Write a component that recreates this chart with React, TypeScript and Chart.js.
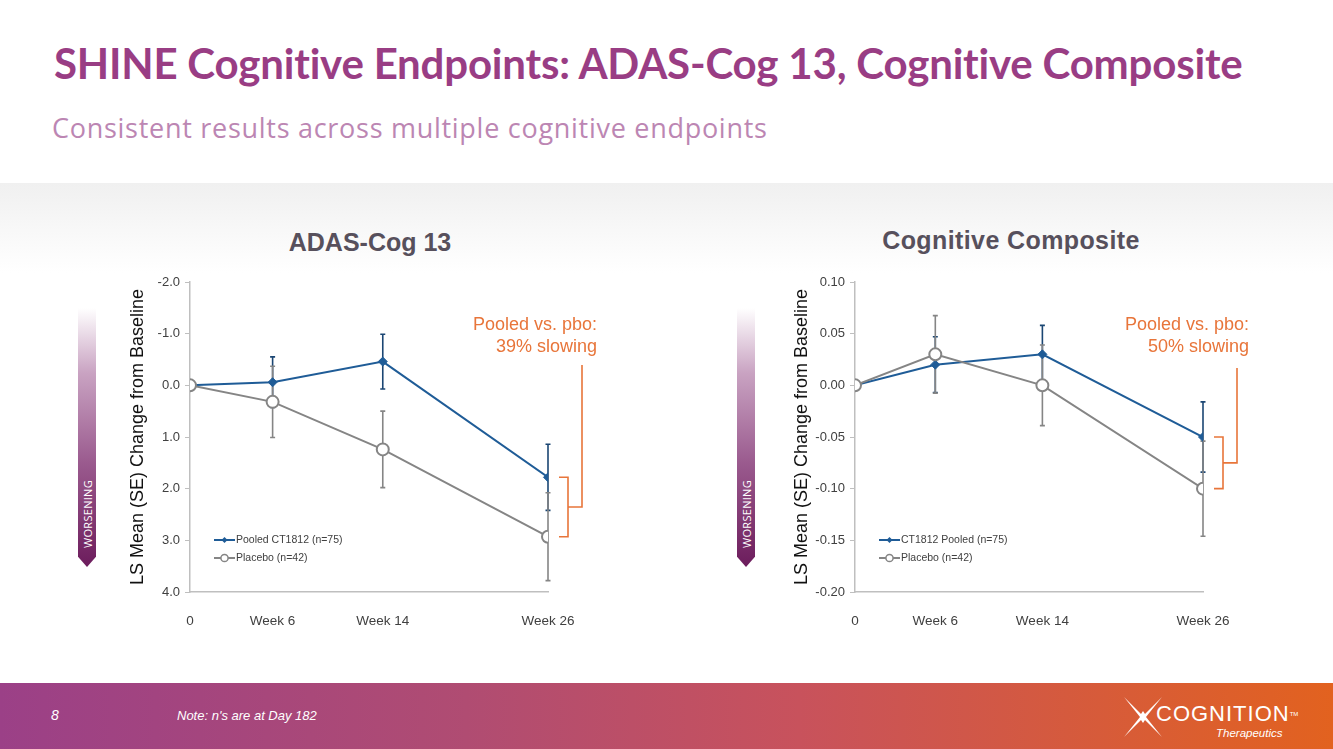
import React, { useEffect, useRef } from "react";
import { Chart, registerables } from "chart.js";

Chart.register(...registerables);

// ---------- data ----------
const weeks = [0, 6, 14, 26];
const xTickLabels = ["0", "Week 6", "Week 14", "Week 26"];

const adasYTicks = [-2, -1, 0, 1, 2, 3, 4];
const adasPooled = [0, -0.06, -0.46, 1.78];
const adasPooledSE = [0, 0.49, 0.53, 0.64];
const adasPlacebo = [0, 0.32, 1.24, 2.93];
const adasPlaceboSE = [0, 0.69, 0.74, 0.85];

const compYTicks = [0.1, 0.05, 0, -0.05, -0.1, -0.15, -0.2];
const compPooled = [0, 0.02, 0.03, -0.05];
const compPooledSE = [0, 0.027, 0.028, 0.034];
const compPlacebo = [0, 0.03, 0.0, -0.1];
const compPlaceboSE = [0, 0.0375, 0.039, 0.046];

const BLUE = "#1F5C97";
const BLUE_ERR = "#1B4673";
const GRAY = "#858585";
const ORANGE = "#E8753A";
const AXIS = "#BFBFBF";
const TICKTXT = "#404040";

type Cfg = {
  left: number;
  yWidth: number;
  rightPad: number;
  titlePad: number;
  yMin: number;
  yMax: number;
  reverse: boolean;
  yTicks: number[];
  digits: number;
  pooled: number[];
  pooledSE: number[];
  placebo: number[];
  placeboSE: number[];
  pooledLabel: string;
  annotation: string[];
  annotRight: number;
  bracketTop: number;
};

const errorBarPlugin = {
  id: "errorBars",
  beforeDatasetsDraw(chart: any) {
    const ctx = chart.ctx;
    const xs = chart.scales.x;
    const ys = chart.scales.y;
    chart.data.datasets.forEach((ds: any) => {
      const se: number[] = ds.se || [];
      ctx.save();
      ctx.strokeStyle = ds.errColor;
      ctx.lineWidth = 1.6;
      ds.data.forEach((p: any, j: number) => {
        const e = se[j];
        if (!e) return;
        const x = xs.getPixelForValue(p.x);
        const y1 = ys.getPixelForValue(p.y + e);
        const y2 = ys.getPixelForValue(p.y - e);
        ctx.beginPath();
        ctx.moveTo(x, y1);
        ctx.lineTo(x, y2);
        ctx.moveTo(x - 2.5, y1);
        ctx.lineTo(x + 2.5, y1);
        ctx.moveTo(x - 2.5, y2);
        ctx.lineTo(x + 2.5, y2);
        ctx.stroke();
      });
      ctx.restore();
    });
  },
};

const overlayPlugin = {
  id: "overlay",
  afterDatasetsDraw(chart: any) {
    const ctx = chart.ctx;
    const cfg: Cfg = chart.options.plugins.overlay.cfg;
    const xs = chart.scales.x;
    const ys = chart.scales.y;
    const area = chart.chartArea;
    // legend
    const entries = [
      { label: cfg.pooledLabel, color: BLUE, style: "diamond" },
      { label: "Placebo (n=42)", color: GRAY, style: "circle" },
    ];
    entries.forEach((en, i) => {
      const y = area.top + 258 + i * 18;
      const x0 = area.left + 24;
      ctx.save();
      ctx.strokeStyle = en.color;
      ctx.lineWidth = 2;
      ctx.beginPath();
      ctx.moveTo(x0, y);
      ctx.lineTo(x0 + 21, y);
      ctx.stroke();
      const cx = x0 + 10.5;
      if (en.style === "diamond") {
        ctx.fillStyle = en.color;
        ctx.beginPath();
        ctx.moveTo(cx, y - 3);
        ctx.lineTo(cx + 3, y);
        ctx.lineTo(cx, y + 3);
        ctx.lineTo(cx - 3, y);
        ctx.closePath();
        ctx.fill();
      } else {
        ctx.fillStyle = "#fff";
        ctx.lineWidth = 1.5;
        ctx.beginPath();
        ctx.arc(cx, y, 3.6, 0, Math.PI * 2);
        ctx.fill();
        ctx.stroke();
      }
      ctx.fillStyle = TICKTXT;
      ctx.font = "10.5px 'Liberation Sans', Arial, sans-serif";
      ctx.textBaseline = "middle";
      ctx.textAlign = "left";
      ctx.fillText(en.label, x0 + 22, y);
      ctx.restore();
    });
    // bracket
    const last = weeks.length - 1;
    const xp = xs.getPixelForValue(weeks[last]);
    const yA = ys.getPixelForValue(cfg.pooled[last]);
    const yB = ys.getPixelForValue(cfg.placebo[last]);
    const yM = (yA + yB) / 2;
    ctx.save();
    ctx.strokeStyle = ORANGE;
    ctx.lineWidth = 1.6;
    ctx.beginPath();
    ctx.moveTo(xp + 11, yA);
    ctx.lineTo(xp + 20, yA);
    ctx.lineTo(xp + 20, yB);
    ctx.lineTo(xp + 11, yB);
    ctx.moveTo(xp + 20, yM);
    ctx.lineTo(xp + 34, yM);
    ctx.lineTo(xp + 34, cfg.bracketTop);
    ctx.stroke();
    ctx.fillStyle = ORANGE;
    ctx.font = "18px 'Liberation Sans', Arial, sans-serif";
    ctx.textAlign = "right";
    ctx.textBaseline = "alphabetic";
    ctx.fillText(cfg.annotation[0], cfg.annotRight, 70);
    ctx.fillText(cfg.annotation[1], cfg.annotRight, 92);
    ctx.restore();
  },
};

function LineChart({ cfg }: { cfg: Cfg }) {
  const ref = useRef<HTMLCanvasElement | null>(null);
  useEffect(() => {
    if (!ref.current) return;
    const chart = new Chart(ref.current, {
      type: "line",
      data: {
        datasets: [
          {
            label: cfg.pooledLabel,
            data: weeks.map((w, i) => ({ x: w, y: cfg.pooled[i] })),
            borderColor: BLUE,
            backgroundColor: BLUE,
            borderWidth: 2,
            pointStyle: "rectRot",
            pointRadius: 4.5,
            pointBackgroundColor: BLUE,
            pointBorderColor: BLUE,
            pointBorderWidth: 1,
            order: 1,
            se: cfg.pooledSE,
            errColor: BLUE_ERR,
          } as any,
          {
            label: "Placebo (n=42)",
            data: weeks.map((w, i) => ({ x: w, y: cfg.placebo[i] })),
            borderColor: GRAY,
            backgroundColor: "#fff",
            borderWidth: 2,
            pointStyle: "circle",
            pointRadius: 6,
            pointBackgroundColor: "#fff",
            pointBorderColor: GRAY,
            pointBorderWidth: 2,
            order: 0,
            se: cfg.placeboSE,
            errColor: GRAY,
          } as any,
        ],
      },
      options: {
        animation: false,
        responsive: false,
        maintainAspectRatio: false,
        layout: { padding: { top: 22, right: cfg.rightPad, left: 0, bottom: 0 } },
        plugins: {
          legend: { display: false },
          tooltip: { enabled: false },
          title: { display: false },
          overlay: { cfg },
        } as any,
        scales: {
          x: {
            type: "linear",
            min: 0,
            max: 26,
            afterBuildTicks: (s: any) => {
              s.ticks = weeks.map((v) => ({ value: v }));
            },
            afterFit: (s: any) => {
              s.height = 48;
            },
            grid: { display: false, drawTicks: false },
            border: { display: true, color: AXIS, width: 1.5 },
            ticks: {
              padding: 21,
              color: TICKTXT,
              font: { size: 13.5, family: "'Liberation Sans', Arial, sans-serif" },
              maxRotation: 0,
              autoSkip: false,
              callback: (v: any) => xTickLabels[weeks.indexOf(Number(v))] ?? "",
            },
          },
          y: {
            type: "linear",
            min: cfg.yMin,
            max: cfg.yMax,
            reverse: cfg.reverse,
            afterBuildTicks: (s: any) => {
              s.ticks = cfg.yTicks.map((v) => ({ value: v }));
            },
            afterFit: (s: any) => {
              s.width = cfg.yWidth;
            },
            grid: {
              display: true,
              drawOnChartArea: false,
              drawTicks: true,
              tickLength: 5,
              color: AXIS,
            },
            border: { display: true, color: AXIS, width: 1.5 },
            ticks: {
              padding: 5,
              color: TICKTXT,
              font: { size: 13, family: "'Liberation Sans', Arial, sans-serif" },
              callback: (v: any) => Number(v).toFixed(cfg.digits),
            },
            title: {
              display: true,
              text: "LS Mean (SE) Change from Baseline",
              color: "#111",
              font: { size: 18, family: "'Liberation Sans', Arial, sans-serif" },
              padding: { top: cfg.titlePad, bottom: 0 },
            },
          },
        },
      },
      plugins: [errorBarPlugin, overlayPlugin],
    });
    return () => chart.destroy();
  }, [cfg]);
  return (
    <canvas
      ref={ref}
      width={560}
      height={380}
      style={{ position: "absolute", left: cfg.left, top: 260, width: 560, height: 380 }}
    />
  );
}

const adasCfg: Cfg = {
  left: 60,
  yWidth: 130,
  rightPad: 72,
  titlePad: 67,
  yMin: -2,
  yMax: 4,
  reverse: true,
  yTicks: adasYTicks,
  digits: 1,
  pooled: adasPooled,
  pooledSE: adasPooledSE,
  placebo: adasPlacebo,
  placeboSE: adasPlaceboSE,
  pooledLabel: "Pooled CT1812 (n=75)",
  annotation: ["Pooled vs. pbo:", "39% slowing"],
  annotRight: 537,
  bracketTop: 105,
};

const compCfg: Cfg = {
  left: 720,
  yWidth: 135,
  rightPad: 77,
  titlePad: 71,
  yMin: -0.2,
  yMax: 0.1,
  reverse: false,
  yTicks: compYTicks,
  digits: 2,
  pooled: compPooled,
  pooledSE: compPooledSE,
  placebo: compPlacebo,
  placeboSE: compPlaceboSE,
  pooledLabel: "CT1812 Pooled (n=75)",
  annotation: ["Pooled vs. pbo:", "50% slowing"],
  annotRight: 529,
  bracketTop: 108,
};

function Worsening({ left }: { left: number }) {
  return (
    <div
      style={{
        position: "absolute",
        left,
        top: 308,
        width: 18,
        height: 259,
        background: "linear-gradient(to bottom, rgba(255,255,255,1) 0%, #C9A3C2 25%, #9A5A8E 60%, #6C1C5C 100%)",
        clipPath: "polygon(0 0, 100% 0, 100% 96%, 50% 100%, 0 96%)",
      }}
    >
      <div
        style={{
          position: "absolute",
          left: 9,
          top: 206,
          transform: "translate(-50%, -50%) rotate(-90deg)",
          color: "#fff",
          fontFamily: "'Open Sans', 'Liberation Sans', sans-serif",
          fontSize: 11,
          letterSpacing: 0.3,
          whiteSpace: "nowrap",
        }}
      >
        WORSENING
      </div>
    </div>
  );
}

export default function App() {
  return (
    <div
      style={{
        position: "fixed",
        left: 0,
        top: 0,
        width: 1333,
        height: 749,
        overflow: "hidden",
        background: "#fff",
        fontFamily: "'Liberation Sans', Arial, sans-serif",
      }}
    >
      <div
        style={{
          position: "absolute",
          left: 0,
          top: 183,
          width: 1333,
          height: 500,
          background: "linear-gradient(to bottom, #F0F0F0 0px, #FFFFFF 90px)",
        }}
      />
      <div
        style={{
          position: "absolute",
          left: 54,
          top: 37,
          color: "#993D84",
          fontFamily: "Lato, sans-serif",
          fontWeight: 700,
          fontSize: 42,
          whiteSpace: "nowrap",
          letterSpacing: -0.2,
          lineHeight: "52px",
        }}
      >
        SHINE Cognitive Endpoints: ADAS-Cog 13, Cognitive Composite
      </div>
      <div
        style={{
          position: "absolute",
          left: 52,
          top: 109,
          color: "#BC86B3",
          fontFamily: "'Open Sans', sans-serif",
          fontSize: 27,
          letterSpacing: 0.72,
          whiteSpace: "nowrap",
          lineHeight: "38px",
        }}
      >
        Consistent results across multiple cognitive endpoints
      </div>

      <div
        style={{
          position: "absolute",
          left: 370,
          top: 227,
          transform: "translateX(-50%)",
          color: "#57505C",
          fontWeight: 700,
          fontSize: 25,
          whiteSpace: "nowrap",
          lineHeight: "30px",
        }}
      >
        ADAS-Cog 13
      </div>
      <div
        style={{
          position: "absolute",
          left: 1011,
          top: 225,
          transform: "translateX(-50%)",
          color: "#57505C",
          fontWeight: 700,
          fontSize: 25,
          letterSpacing: 0.4,
          whiteSpace: "nowrap",
          lineHeight: "30px",
        }}
      >
        Cognitive Composite
      </div>

      <Worsening left={78} />
      <Worsening left={737} />

      <LineChart cfg={adasCfg} />
      <LineChart cfg={compCfg} />

      <div
        style={{
          position: "absolute",
          left: 0,
          top: 683,
          width: 1333,
          height: 66,
          background: "linear-gradient(to right, #9B4087 0%, #B04C72 35%, #C8525C 60%, #E2621F 100%)",
        }}
      >
        <div style={{ position: "absolute", left: 51, top: 24, color: "#fff", fontStyle: "italic", fontSize: 14 }}>8</div>
        <div style={{ position: "absolute", left: 177, top: 25, color: "#fff", fontStyle: "italic", fontSize: 13 }}>
          Note: n's are at Day 182
        </div>
        <svg
          style={{ position: "absolute", left: 1124, top: 14 }}
          width={38}
          height={40}
          viewBox="0 0 38 40"
        >
          <path
            d="M0 0 L17 17 L19 14 L21 17 L38 0 L22 20 L38 40 L21 23 L19 26 L17 23 L0 40 L16 20 Z"
            fill="#fff"
          />
        </svg>
        <div
          style={{
            position: "absolute",
            left: 1156,
            top: 19,
            color: "#fff",
            fontSize: 22,
            fontFamily: "'Liberation Sans Narrow', 'Liberation Sans', sans-serif",
            fontWeight: 300,
            letterSpacing: 1,
            lineHeight: "24px",
          }}
        >
          COGNITION
          <span style={{ fontSize: 6, verticalAlign: "top", letterSpacing: 0 }}>TM</span>
        </div>
        <div
          style={{
            position: "absolute",
            left: 1216,
            top: 43,
            color: "#fff",
            fontSize: 11.5,
            fontStyle: "italic",
            lineHeight: "14px",
          }}
        >
          Therapeutics
        </div>
      </div>
    </div>
  );
}
